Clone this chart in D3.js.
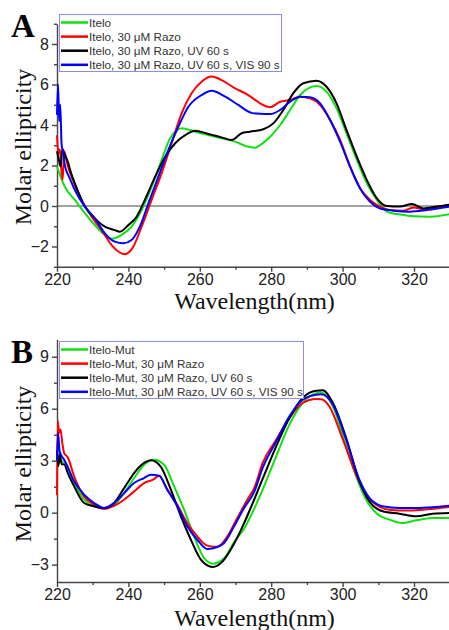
<!DOCTYPE html>
<html lang="en">
<head>
  <meta charset="utf-8">
  <title>CD spectra</title>
  <script src="https://cdn.jsdelivr.net/npm/d3@7"></script>
  <style>
    body { margin: 0; background: #fff; }
    .tick text { font-family: "Liberation Sans", Arial, sans-serif; font-size: 16px; fill: #222; }
    .axis path, .axis line { stroke: #444; }
    .ttl { font-family: "Liberation Serif", "Times New Roman", serif; font-size: 24px; fill: #111; }
    .leg { font-family: "Liberation Sans", Arial, sans-serif; font-size: 11.7px; fill: #333; }
  </style>
</head>
<body>
<svg id="svg" width="449" height="630"></svg>
<script>
  // wavelength (nm), molar ellipticity
  var seriesNamesA = ['Itelo', 'Itelo, 30 \u03bcM Razo', 'Itelo, 30 \u03bcM Razo, UV 60 s', 'Itelo, 30 \u03bcM Razo, UV 60 s, VIS 90 s'];
  var seriesNamesB = ['Itelo-Mut', 'Itelo-Mut, 30 \u03bcM Razo', 'Itelo-Mut, 30 \u03bcM Razo, UV 60 s', 'Itelo-Mut, 30 \u03bcM Razo, UV 60 s, VIS 90 s'];
  var colors = ['#11e011', '#ff0000', '#000000', '#0000ff'];

  var xTicks = [220, 240, 260, 280, 300, 320];
  var yTicksA = [-2, 0, 2, 4, 6, 8];
  var yTicksB = [-3, 0, 3, 6, 9];

  var A_itelo = [[220,1.95],[221,1.45],[222.2,0.95],[225,0.3],[227.8,-0.35],[230.6,-0.94],[233.4,-1.43],[235.3,-1.62],[238.1,-1.43],[240.9,-1.02],[243.7,-0.2],[246.5,0.95],[249.3,2.27],[251.7,3.34],[254.9,3.84],[258.7,3.67],[262.4,3.5],[266.1,3.34],[269.9,3.18],[273,2.95],[275.5,2.88],[276.9,3.01],[279.7,3.42],[282.5,4.0],[285.3,4.74],[288.1,5.48],[290.9,5.86],[292.7,5.93],[295.5,5.65],[298.3,4.82],[301.1,3.59],[304,2.27],[306.8,1.12],[309.6,0.3],[312.4,-0.28],[315.2,-0.4],[318.9,-0.49],[324.5,-0.53],[330,-0.4]];
  var A_razo = [[220,3.5],[220.4,2.6],[220.8,2.8],[221.3,1.6],[221.6,1.3],[222,2.7],[222.5,2.4],[223,2.0],[224.1,1.45],[226.9,0.3],[229.7,-0.53],[232.5,-1.19],[235.3,-1.93],[238.1,-2.34],[239,-2.38],[241.4,-2.0],[243.7,-1.02],[246.5,0.3],[249.3,1.61],[252.1,3.1],[254.9,4.58],[257.7,5.57],[260.5,6.14],[263.3,6.39],[266.1,6.22],[269.9,5.81],[273.6,5.48],[276.9,5.07],[279.7,4.88],[282.5,5.15],[285.3,5.23],[288.1,5.4],[290.9,5.32],[293.7,4.99],[296.5,4.25],[299.3,3.26],[302.1,1.94],[304.9,0.87],[307.7,0.3],[310.5,-0.03],[313.3,-0.2],[317,-0.23],[319.8,-0.07],[322.6,-0.16],[326.4,-0.07],[330,0.0]];
  var A_uv = [[220,2.7],[220.5,2.3],[221,1.95],[221.5,2.8],[222,2.6],[223,2.2],[224,1.6],[225,1.12],[227.8,-0.03],[230.6,-0.61],[233.4,-1.02],[236.2,-1.19],[237.6,-1.27],[240,-0.94],[242.3,-0.53],[244.6,0.3],[247.5,1.45],[250.3,2.43],[253.1,3.1],[255.9,3.5],[258.7,3.72],[262.4,3.56],[266.1,3.39],[268.9,3.26],[271.7,3.59],[274,3.67],[277.8,3.79],[280.6,4.08],[283.4,4.74],[286.2,5.57],[289,6.06],[292.7,6.19],[295.5,5.89],[298.3,5.07],[301.1,3.75],[304,2.43],[306.8,1.28],[309.6,0.38],[312.4,0.0],[316.1,-0.03],[319.4,0.1],[322.6,-0.12],[326.4,-0.03],[330,0.07]];
  var A_vis = [[220,4.5],[220.3,6.0],[220.6,4.2],[220.9,5.0],[221.3,3.0],[221.7,2.7],[222.2,2.0],[223.5,1.4],[225,0.79],[227.8,-0.03],[230.6,-0.61],[233.4,-1.35],[236.2,-1.76],[238.6,-1.84],[240.9,-1.68],[243.2,-1.02],[245.6,0.13],[248.4,1.45],[251.2,2.77],[254,3.92],[256.8,4.9],[260.5,5.48],[263.3,5.69],[267.1,5.4],[270.8,4.99],[274.5,4.6],[276.9,4.55],[279.7,4.54],[282.5,4.74],[285.3,5.15],[288.1,5.4],[290.9,5.37],[293.7,5.07],[296.5,4.25],[299.3,3.18],[302.1,1.94],[304.9,0.87],[307.7,0.21],[310.5,-0.12],[314.2,-0.23],[318.9,-0.28],[323.6,-0.2],[330,-0.03]];

  var B_mut = [[220,3.0],[220.5,3.3],[221,2.9],[222,2.96],[224.8,1.71],[227.6,0.75],[230.4,0.37],[233.2,0.27],[236,0.46],[238.8,1.13],[241.6,2.0],[244.4,2.77],[247.2,3.06],[250,2.77],[252.8,1.52],[255.6,0.17],[258.4,-1.37],[261.2,-2.61],[263.6,-2.94],[266.9,-2.61],[269.7,-1.66],[272.5,-0.9],[273.9,-0.35],[275.3,0.25],[277.6,1.33],[281.4,3.25],[285.1,5.08],[288.8,6.33],[292.6,6.9],[294,6.94],[297.3,6.13],[301,3.83],[303.8,2.1],[306.6,0.75],[309.4,-0.02],[313.1,-0.4],[316.8,-0.6],[320.6,-0.44],[325.2,-0.31],[330,-0.31]];
  var B_razo = [[220,1.0],[220.2,5.3],[220.6,4.6],[221,4.8],[221.5,4.0],[222,3.44],[223,3.2],[224.8,2.1],[227.6,0.94],[230.4,0.46],[233.2,0.21],[236,0.4],[238.8,0.75],[241.6,1.23],[244.4,1.71],[247.2,1.94],[248.6,2.13],[250.9,1.33],[253.7,0.46],[256.5,-0.6],[259.3,-1.37],[262.1,-1.9],[264.9,-1.97],[267.7,-1.37],[270.5,-0.31],[273.3,0.75],[275.3,1.45],[277.6,2.87],[281.4,4.21],[285.1,5.46],[288.8,6.33],[292.6,6.56],[294,6.55],[296.3,6.13],[300.1,4.21],[303.8,2.19],[306.6,1.04],[309.4,0.46],[313.1,0.17],[317.8,0.12],[322.4,0.17],[330,0.33]];
  var B_uv = [[220,3.6],[220.4,2.7],[220.8,3.4],[221.3,2.8],[222,2.8],[223,2.3],[224.8,1.52],[227.6,0.56],[230.4,0.37],[233.2,0.27],[236,0.56],[238.8,1.42],[241.6,2.29],[244.4,2.87],[246.3,3.02],[249,2.67],[251.9,1.33],[254.7,-0.21],[257.5,-1.56],[260.3,-2.71],[263.6,-3.13],[266.4,-2.81],[269.2,-1.94],[272,-0.79],[273.9,0.1],[277.6,1.95],[281.4,3.83],[285.1,5.46],[288.8,6.62],[292.6,7.04],[294.4,7.06],[297.3,6.33],[301,4.31],[304.7,1.81],[307.5,0.65],[311.2,0.08],[315.9,-0.06],[320.6,-0.21],[325.2,-0.06],[330,-0.02]];
  var B_vis = [[220,3.0],[220.3,4.6],[220.7,3.6],[221.2,3.3],[222,3.06],[224.8,1.81],[227.6,1.04],[230.4,0.56],[233.2,0.27],[236,0.56],[238.8,1.13],[241.6,1.71],[244.4,2.0],[246.3,2.19],[248.6,2.13],[250.9,1.33],[253.7,0.37],[256.5,-0.79],[259.3,-1.56],[262.1,-2.1],[264.9,-1.98],[266.8,-1.75],[269.6,-0.79],[272.4,0.27],[275.3,1.23],[277.6,2.58],[281.4,4.11],[285.1,5.56],[288.8,6.52],[292.6,6.81],[294,6.83],[297.3,6.23],[301,4.21],[304.7,1.9],[307.5,0.85],[311.2,0.37],[315.9,0.27],[320.6,0.27],[325.2,0.31],[330,0.4]];

  var svg = d3.select('#svg');

  function drawPanel(p) {
    var x = d3.scaleLinear().domain([220, 330]).range([57, 449.7]);
    var y = d3.scaleLinear().domain(p.yDomain).range(p.yRange);
    var g = svg.append('g');

    // minor ticks first
    g.append('g').attr('class', 'axis')
      .attr('transform', 'translate(0,' + p.yRange[0] + ')')
      .call(d3.axisBottom(x).tickValues(d3.range(230, 331, 20)).tickSize(3).tickFormat(''))
      .select('.domain').remove();
    g.append('g').attr('class', 'axis')
      .attr('transform', 'translate(57,0)')
      .call(d3.axisLeft(y).tickValues(p.yMinor).tickSize(3).tickFormat(''))
      .select('.domain').remove();

    g.append('g').attr('class', 'axis')
      .attr('transform', 'translate(0,' + p.yRange[0] + ')')
      .call(d3.axisBottom(x).tickValues(xTicks).tickSize(5).tickSizeOuter(0).tickPadding(2));
    g.append('g').attr('class', 'axis')
      .attr('transform', 'translate(57,0)')
      .call(d3.axisLeft(y).tickValues(p.yTicks).tickSize(5).tickSizeOuter(0).tickPadding(3)
        .tickFormat(d3.format('d')));
    g.selectAll('.axis path, .axis line').attr('stroke-width', 1.4);

    if (p.zeroLine) {
      g.append('line')
        .attr('x1', 57).attr('x2', 449)
        .attr('y1', y(0)).attr('y2', y(0))
        .attr('stroke', '#444').attr('stroke-width', 1);
    }

    var line = d3.line()
      .x(function (d) { return x(d[0]); })
      .y(function (d) { return y(d[1]); })
      .curve(d3.curveMonotoneX);

    g.selectAll('path.series')
      .data(p.series)
      .enter()
      .append('path')
      .attr('class', 'series')
      .attr('d', line)
      .attr('fill', 'none')
      .attr('stroke', function (d, i) { return colors[i]; })
      .attr('stroke-width', 2);

    // legend
    var lg = g.append('g');
    lg.append('rect')
      .attr('x', 59.5).attr('y', p.legY)
      .attr('width', p.legW).attr('height', 57)
      .attr('fill', '#fff').attr('stroke', '#8c8ce8').attr('stroke-width', 1);
    p.names.forEach(function (name, i) {
      var yy = p.legY + 8 + i * 14.1;
      lg.append('line')
        .attr('x1', 61).attr('x2', 88)
        .attr('y1', yy).attr('y2', yy)
        .attr('stroke', colors[i]).attr('stroke-width', 2.5);
      lg.append('text')
        .attr('class', 'leg')
        .attr('x', 89).attr('y', yy + 4)
        .text(name);
    });

    // titles
    g.append('text').attr('class', 'ttl')
      .attr('x', 254.5).attr('y', p.xLabelY)
      .attr('text-anchor', 'middle')
      .text('Wavelength(nm)');
    g.append('text').attr('class', 'ttl')
      .attr('transform', 'translate(31,' + p.yLabelC + ') rotate(-90)')
      .attr('text-anchor', 'middle')
      .text('Molar ellipticity');
    g.append('text')
      .attr('x', 11).attr('y', p.letterY)
      .attr('font-family', '"Liberation Serif", "Times New Roman", serif')
      .attr('font-weight', 'bold').attr('font-size', 33)
      .attr('fill', '#000')
      .text(p.letter);
  }

  drawPanel({
    letter: 'A', letterY: 37,
    yDomain: [-3, 9], yRange: [266.75, 23.75],
    yTicks: yTicksA, yMinor: [-3, -1, 1, 3, 5, 7, 9],
    zeroLine: true,
    series: [A_itelo, A_razo, A_uv, A_vis],
    names: seriesNamesA,
    legY: 14.5, legW: 222,
    xLabelY: 309, yLabelC: 147
  });

  drawPanel({
    letter: 'B', letterY: 363,
    yDomain: [-4, 10], yRange: [582, 339.4],
    yTicks: yTicksB, yMinor: [-1.5, 1.5, 4.5, 7.5],
    zeroLine: false,
    series: [B_mut, B_razo, B_uv, B_vis],
    names: seriesNamesB,
    legY: 341.5, legW: 244,
    xLabelY: 625.5, yLabelC: 464
  });
</script>
</body>
</html>
